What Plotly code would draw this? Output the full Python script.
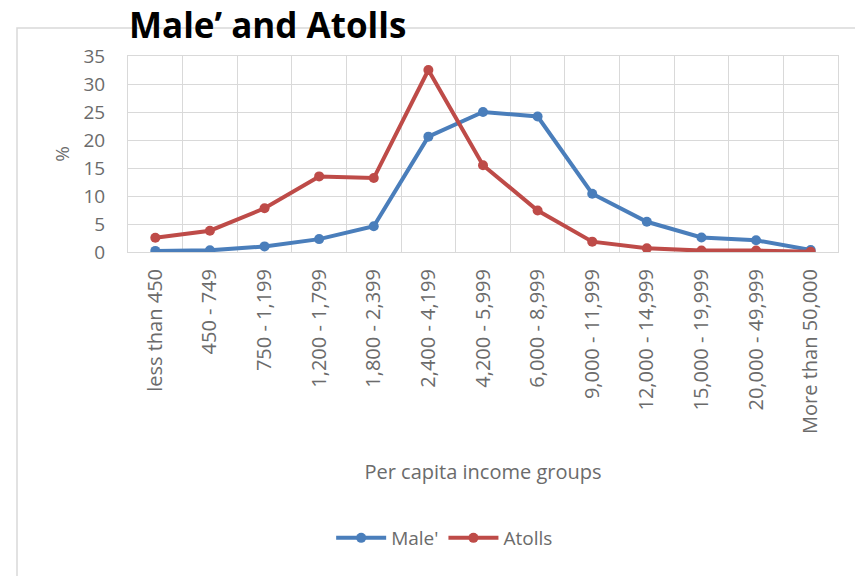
import plotly.graph_objects as go

categories = ["less than 450", "450 - 749", "750 - 1,199", "1,200 - 1,799", "1,800 - 2,399",
              "2,400 - 4,199", "4,200 - 5,999", "6,000 - 8,999", "9,000 - 11,999",
              "12,000 - 14,999", "15,000 - 19,999", "20,000 - 49,999", "More than 50,000"]
male = [0.2, 0.3, 1.0, 2.3, 4.6, 20.6, 25.0, 24.2, 10.4, 5.4, 2.6, 2.1, 0.35]
atolls = [2.55, 3.8, 7.8, 13.5, 13.2, 32.5, 15.5, 7.4, 1.85, 0.65, 0.25, 0.25, 0.05]
y_ticks = [0, 5, 10, 15, 20, 25, 30, 35]

BLUE = "#4a7ebb"
RED = "#be4b48"
GRID = "#d9d9d9"
TXT = "#6b6b6b"
FONT = "Open Sans"

# page body has an 8px margin
OFF = 8
W, H = 863 - OFF, 576 - OFF
L, R, T = 128 - OFF, 25, 56 - OFF
PH = 196
B = H - T - PH

fig = go.Figure()
fig.add_trace(go.Scatter(x=categories, y=male, name="Male'", mode="lines+markers",
                         line=dict(color=BLUE, width=4), marker=dict(color=BLUE, size=10)))
fig.add_trace(go.Scatter(x=categories, y=atolls, name="Atolls", mode="lines+markers",
                         line=dict(color=RED, width=4), marker=dict(color=RED, size=10)))

fig.update_layout(
    width=W, height=H,
    margin=dict(l=L, r=R, t=T, b=B),
    paper_bgcolor="white", plot_bgcolor="white",
    font=dict(family=FONT, color=TXT),
    title=dict(text="<b>Male’ and Atolls</b>", font=dict(family=FONT, size=35, color="black"),
               x=(129 - OFF) / W, xanchor="left", y=1 - 5 / H, yanchor="top", pad=dict(t=0, b=0)),
    showlegend=True,
    legend=dict(orientation="h", x=0.446, xanchor="center", y=(252 - 538) / PH, yanchor="middle",
                font=dict(size=19, color=TXT), itemwidth=50),
    xaxis=dict(type="category", range=[-0.5, 12.5], tickson="boundaries", showgrid=True,
               gridcolor=GRID, gridwidth=1, ticks="", tickangle=-90,
               tickfont=dict(size=20, color=TXT), ticklabelstandoff=8,
               showline=True, linecolor=GRID, mirror=True, zeroline=False,
               title=dict(text="Per capita income groups", font=dict(size=20, color=TXT), standoff=32)),
    yaxis=dict(range=[0, 35], tickvals=y_ticks, showgrid=True, gridcolor=GRID, gridwidth=1,
               tickfont=dict(size=19, color=TXT), ticklabelstandoff=18, ticks="",
               showline=True, linecolor=GRID, mirror=True, zeroline=False,
               title=dict(text="%", font=dict(size=19, color=TXT), standoff=8)),
    shapes=[dict(type="rect", xref="paper", yref="paper",
                 x0=(17 - 128) / 710, x1=(861 - 128) / 710,
                 y0=(252 - 600) / PH, y1=(252 - 28) / PH,
                 line=dict(color=GRID, width=1.5), layer="below")],
)

fig.write_html("out.html")
